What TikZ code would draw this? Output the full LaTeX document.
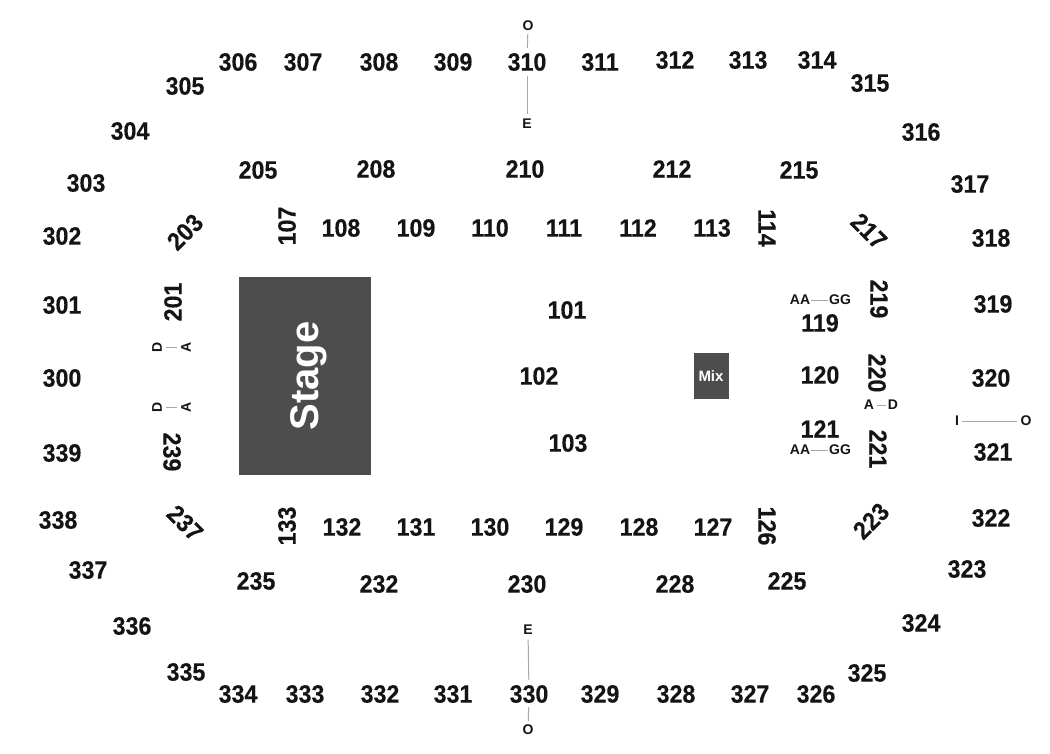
\documentclass[tikz,border=0pt]{standalone}
\usepackage{fontspec}
\setmainfont{Liberation Sans}
\newfontface\numface[FakeStretch=0.93,FakeBold=0.3]{Liberation Sans Bold}
\definecolor{ink}{HTML}{141414}
\definecolor{block}{HTML}{4D4D4D}
\definecolor{rule}{HTML}{A8A8A8}
\tikzset{
  num/.style={font=\fontsize{25}{25}\numface,text=ink,inner sep=0pt},
  tiny/.style={font=\fontsize{14}{14}\selectfont\bfseries,text=ink,inner sep=0pt},
  aisle/.style={draw=rule,line width=1pt},
  blockf/.style={fill=block,draw=none},
}
\begin{document}
\begin{tikzpicture}[x=1pt,y=-1pt]
\useasboundingbox (0,0) rectangle (1050,754);
\foreach \t/\x/\y in {
306/238/62,307/303/62,308/379/62,309/453/62,310/527/62,311/600/62,312/675/60,313/748/60,314/817/60,315/870/83,316/921/132,317/970/184,318/991/238,319/993/304,320/991/378,321/993/452,322/991/518,323/967/569,324/921/623,325/867/673,326/816/694,327/750/694,328/676/694,329/600/694,330/529/694,331/453/694,332/380/694,333/305/694,334/238/694,335/186/672,336/132/626,337/88/570,338/58/520,339/62/453,300/62/378,301/62/305,302/62/236,303/86/183,304/130/131,305/185/86,
205/258/170,208/376/169,210/525/169,212/672/169,215/799/170,
108/341/228,109/416/228,110/490/228,111/564/228,112/638/228,113/712/228,
132/342/527,131/416/527,130/490/527,129/564/527,128/639/527,127/713/527,
235/256/581,232/379/584,230/527/584,228/675/584,225/787/581,
101/567/310,102/539/376,103/568/443,119/820/323,120/820/375,121/820/429}
  {\node[num] (n\t) at (\x,\y) {\t};}
\foreach \t/\x/\y/\a in {107/287/226/90,133/287/526/90,114/767/228/-90,126/767/526/-90,201/173/302/90,239/172/452/-90,219/879/299/-90,220/877/373/-90,221/878/449/-90,203/185/232/45,237/185/523/-45,217/869/231/-45,223/871/521/45}
  {\node[num,rotate=\a] (r\t) at (\x,\y) {\t};}
\node[blockf,minimum width=132pt,minimum height=198pt,inner sep=0pt] (stage) at (305,376) {};
\node[rotate=90,font=\fontsize{40}{40}\selectfont\bfseries,text=white,inner sep=0pt] (stagelabel) at (309,376) {Stage};
\node[blockf,minimum width=35pt,minimum height=46pt,inner sep=0pt,font=\fontsize{15}{15}\selectfont\bfseries,text=white] (mix) at (711,376) {Mix};
\node[tiny] (o1) at (528,26) {O};
\node[tiny] (e1) at (527,124) {E};
\draw[aisle,shorten <=3pt,shorten >=5pt] (o1) -- (n310);
\draw[aisle,shorten <=5pt,shorten >=4.5pt] (n310) -- (e1);
\node[tiny] (e2) at (528,630) {E};
\node[tiny] (o2) at (528,730) {O};
\draw[aisle,shorten <=4.5pt,shorten >=5pt] (e2) -- (n330);
\draw[aisle,shorten <=4pt,shorten >=3.5pt] (n330) -- (o2);
\node[tiny,rotate=90] (d1) at (157,347) {D};
\node[tiny,rotate=90] (a1) at (186,347) {A};
\draw[aisle,shorten <=4pt,shorten >=4pt] (d1) -- (a1);
\node[tiny,rotate=90] (d2) at (157,407) {D};
\node[tiny,rotate=90] (a2) at (186,407) {A};
\draw[aisle,shorten <=4pt,shorten >=4pt] (d2) -- (a2);
\node[tiny] (aa1) at (800,300) {AA};
\node[tiny] (gg1) at (840,300) {GG};
\draw[aisle,shorten <=0.5pt,shorten >=0.5pt] (aa1) -- (gg1);
\node[tiny] (aa2) at (800,450) {AA};
\node[tiny] (gg2) at (840,450) {GG};
\draw[aisle,shorten <=0.5pt,shorten >=0.5pt] (aa2) -- (gg2);
\node[tiny] (a3) at (869,405) {A};
\node[tiny] (d3) at (893,405) {D};
\draw[aisle,shorten <=3pt,shorten >=1.5pt] (a3) -- (d3);
\node[tiny] (i1) at (957,421) {I};
\node[tiny] (o3) at (1026,421) {O};
\draw[aisle,shorten <=3pt,shorten >=3pt] (i1) -- (o3);
\end{tikzpicture}
\end{document}
